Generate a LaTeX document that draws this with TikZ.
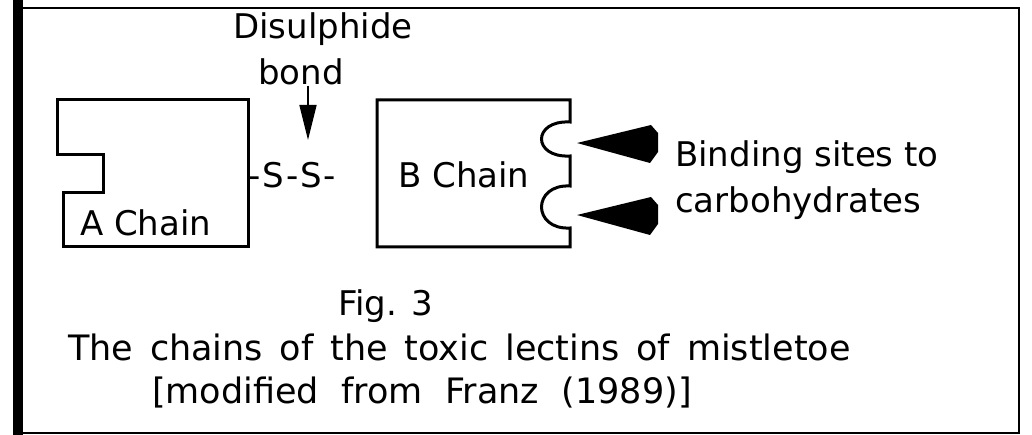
\documentclass[tikz,border=0pt]{standalone}
\usepackage{fontspec}
\setmainfont{DejaVu Sans}
\usetikzlibrary{arrows.meta}
\begin{document}
\begin{tikzpicture}[x=1pt,y=-1pt,
    txt/.style={inner sep=0pt,anchor=base west,font=\fontsize{34}{40}\selectfont},
    captxt/.style={txt,font=\fontsize{35}{40}\selectfont},
    chain/.style={line width=3pt,line join=miter}]
  \useasboundingbox (0,0) rectangle (1032,435);
  % frame
  \fill (13,0) rectangle (23,435);
  \draw[line width=1.5pt] (18,8) -- (1019,8) -- (1019,433) -- (18,433);
  % A chain
  \draw[chain] (57,100) -- (248,100) -- (248,247) -- (63,247) -- (63,193)
    -- (103,193) -- (103,155) -- (57,155) -- cycle;
  \node[txt] (achain) at (80,236) {A Chain};
  % B chain with the two sites
  \draw[chain] (377,100) -- (570,100) -- (570,122)
    .. controls (532,120) and (532,158) .. (570,156) -- (570,186)
    .. controls (532,184) and (532,230) .. (570,228) -- (570,247) -- (377,247) -- cycle;
  \node[txt] (bchain) at (398,188) {B Chain};
  % disulphide bond
  \node[txt] (ss) at (248,188) {-\kern2pt S\kern2pt-\kern2pt S\kern2pt-};
  \node[txt] (disulphide) at (233,39) {Disulphide};
  \node[txt] (bond) at (258,85) {bond};
  \coordinate (bondtip) at (308,140);
  \draw[-{Triangle[length=35pt,width=17pt]},line width=1.5pt] (bond.south -| bondtip) -- (bondtip);
  % binding sites
  \node[txt] (binding) at (675,167) {Binding sites to};
  \node[txt] (carbo) at (675,213) {carbohydrates};
  \coordinate (site1) at (577,143);
  \coordinate (site2) at (577,215);
  \fill (site1) -- ++(74,-18) -- ++(7,8) -- ++(0,19) -- ++(-8,11) -- cycle;
  \fill (site2) -- ++(74,-18) -- ++(7,8) -- ++(0,19) -- ++(-8,11) -- cycle;
  % caption
  \node[txt] (fig) at (338,315) {Fig. 3};
  \node[captxt] (caption) at (68,360) {\spaceskip=0.48em The chains of the toxic lectins of mistletoe};
  \node[captxt] (source) at (152,403) {\spaceskip=0.64em [modified from Franz (1989)]};
\end{tikzpicture}
\end{document}
